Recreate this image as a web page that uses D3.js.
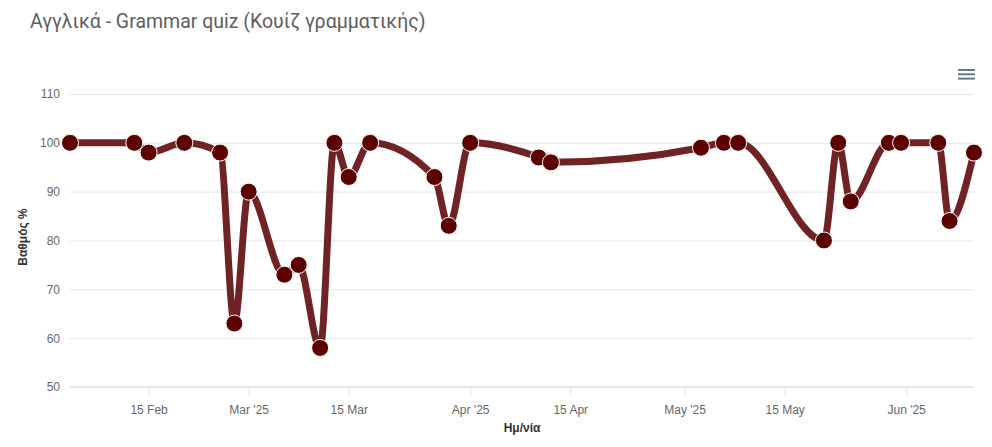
<!DOCTYPE html>
<html><head><meta charset="utf-8">
<script src="https://cdn.jsdelivr.net/npm/d3@7"></script>
<style>
html,body{margin:0;padding:0;background:#fff;}
svg{display:block;}
</style></head>
<body>
<svg id="chart" width="992" height="447"></svg>
<script>
const titleText = "Αγγλικά - Grammar quiz (Κουίζ γραμματικής)";
const yAxisTitle = "Βαθμός %";
const xAxisTitle = "Ημ/νία";
const dates = [
  "2025-02-04T00:00","2025-02-13T00:00","2025-02-15T00:00","2025-02-20T00:00","2025-02-25T00:00",
  "2025-02-27T00:00","2025-03-01T00:00","2025-03-06T00:00","2025-03-08T00:00","2025-03-11T00:00",
  "2025-03-13T00:00","2025-03-15T00:00","2025-03-18T00:00","2025-03-27T00:00","2025-03-29T00:00",
  "2025-04-01T00:00","2025-04-10T14:00","2025-04-12T07:00","2025-05-03T07:00","2025-05-06T12:00",
  "2025-05-08T12:00","2025-05-20T12:00","2025-05-22T12:00","2025-05-24T06:00","2025-05-29T14:00",
  "2025-05-31T07:00","2025-06-05T12:00","2025-06-07T02:00","2025-06-10T12:00"
];
const scores = [100,100,98,100,98,63,90,73,75,58,100,93,100,93,83,100,97,96,99,100,100,80,100,88,100,100,100,84,98];
const yTicks = [50,60,70,80,90,100,110];
const xTickDates = ["2025-02-15","2025-03-01","2025-03-15","2025-04-01","2025-04-15","2025-05-01","2025-05-15","2025-06-01"];
const xTickLabels = ["15 Feb","Mar '25","15 Mar","Apr '25","15 Apr","May '25","15 May","Jun '25"];

(function(){
const parse = d3.timeParse("%Y-%m-%dT%H:%M");
const parseDay = d3.timeParse("%Y-%m-%d");
const data = dates.map((d,i)=>({date:parse(d), value:scores[i]}));

const svg = d3.select("#chart");
const mLeft = 70, mRight = 974, mTop = 94, mBottom = 387;

const x = d3.scaleTime().domain(d3.extent(data,d=>d.date)).range([mLeft,mRight]);
const y = d3.scaleLinear().domain([50,110]).range([mBottom,mTop]);

// title
svg.append("text").attr("x",30).attr("y",28)
  .attr("font-family","Roboto, 'Open Sans', sans-serif").attr("font-size",19.5)
  .attr("fill","#5e5e5e").text(titleText);

// menu icon
const menu = svg.append("g").attr("stroke","#66788f").attr("stroke-width",2);
[70,74.3,78.6].forEach(yy=>menu.append("line").attr("x1",958).attr("x2",975).attr("y1",yy).attr("y2",yy));

// grid lines
const grid = svg.append("g");
yTicks.forEach(t=>{
  grid.append("line").attr("x1",mLeft).attr("x2",mRight).attr("y1",y(t)+0.5).attr("y2",y(t)+0.5)
    .attr("stroke","#e6e6e6").attr("stroke-width",1);
});

// y axis
const yAxis = d3.axisLeft(y).tickValues(yTicks).tickSize(0).tickPadding(10);
const yg = svg.append("g").attr("transform",`translate(${mLeft},0)`).call(yAxis);
yg.select(".domain").remove();
yg.selectAll("text").attr("font-family","'Liberation Sans', Arial, sans-serif").attr("font-size",12).attr("fill","#666");

// x axis
const xAxis = d3.axisBottom(x).tickValues(xTickDates.map(parseDay))
  .tickFormat((d,i)=>xTickLabels[i]).tickSize(10).tickPadding(8);
const xg = svg.append("g").attr("transform",`translate(0,${mBottom})`).call(xAxis);
xg.select(".domain").attr("stroke","#e6e6e6").attr("stroke-width",2).attr("d",`M${mLeft},0H${mRight}`);
xg.selectAll(".tick line").attr("stroke","#e6e6e6");
xg.selectAll("text").attr("font-family","'Liberation Sans', Arial, sans-serif").attr("font-size",12).attr("fill","#666");

// axis titles
svg.append("text").attr("transform",`translate(27,237) rotate(-90)`).attr("text-anchor","middle")
  .attr("font-family","'Liberation Sans', Arial, sans-serif").attr("font-size",12).attr("font-weight","bold")
  .attr("fill","#333").text(yAxisTitle);
svg.append("text").attr("x",(mLeft+mRight)/2).attr("y",432).attr("text-anchor","middle")
  .attr("font-family","'Liberation Sans', Arial, sans-serif").attr("font-size",12).attr("font-weight","bold")
  .attr("fill","#333").text(xAxisTitle);

// line
const line = d3.line().x(d=>x(d.date)).y(d=>y(d.value)).curve(d3.curveMonotoneX);
svg.append("path").datum(data).attr("d",line).attr("fill","none")
  .attr("stroke","#702325").attr("stroke-width",7).attr("stroke-linejoin","round").attr("stroke-linecap","round");

// markers
svg.append("g").selectAll("circle").data(data).join("circle")
  .attr("cx",d=>x(d.date)).attr("cy",d=>y(d.value)).attr("r",8.5)
  .attr("fill","#5c0000").attr("stroke","#ffffff").attr("stroke-width",1);
})();
</script>
</body></html>
